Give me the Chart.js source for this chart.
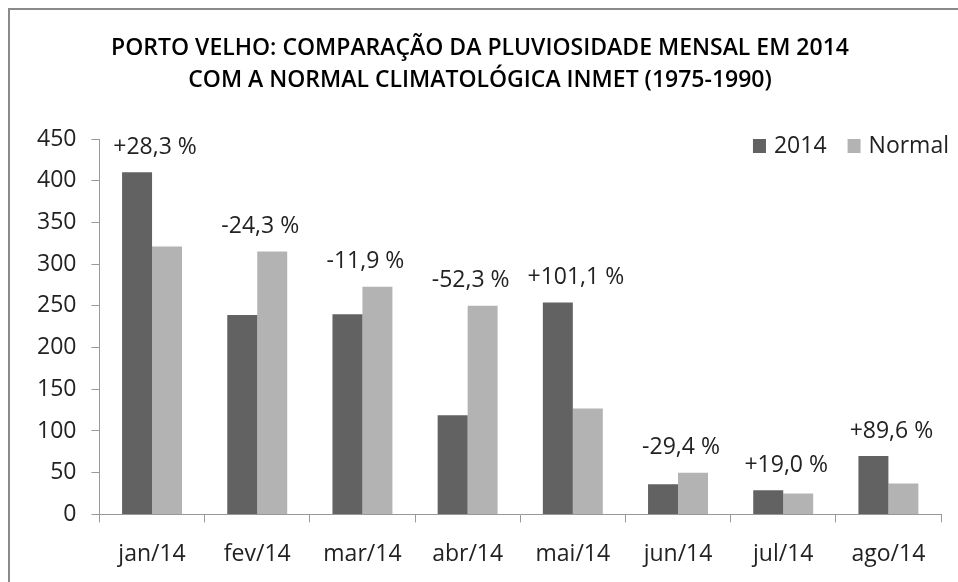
<!DOCTYPE html>
<html>
<head>
<meta charset="utf-8">
<script src="https://cdn.jsdelivr.net/npm/chart.js@4"></script>
<style>
  html, body { margin: 0; padding: 0; background: #fff; overflow: hidden; }
  #wrap { position: relative; width: 958px; height: 582px; }
  #frame { position: absolute; left: 8px; top: 8px; width: 1000px; height: 1000px;
           border: 2px solid #8a8a8a; box-sizing: border-box; }
  canvas { position: absolute; left: 0; top: 0; }
</style>
</head>
<body>
<div id="wrap">
  <div id="frame"></div>
  <canvas id="myChart" width="958" height="582"></canvas>
</div>
<script>
// meses
var months = ['jan/14', 'fev/14', 'mar/14', 'abr/14', 'mai/14', 'jun/14', 'jul/14', 'ago/14'];

// pluviosidade (mm)
var rain2014 = [410, 239, 240, 119, 254, 36, 29, 70];
var rainNormal = [321, 315, 273, 250, 127, 50, 25, 37];

// diferenca em relacao a normal
var pctLabels = ['+28,3 %', '-24,3 %', '-11,9 %', '-52,3 %', '+101,1 %', '-29,4 %', '+19,0 %', '+89,6 %'];

var titleLines = ['PORTO VELHO: COMPARAÇÃO DA PLUVIOSIDADE MENSAL EM 2014',
                  'COM A NORMAL CLIMATOLÓGICA INMET (1975-1990)'];

var baseFont = '"Open Sans", sans-serif';

// titulo desenhado a mao
var titlePlugin = {
    id: 'titulo',
    afterDraw: function (chart) {
        var ctx = chart.ctx;
        ctx.save();
        ctx.fillStyle = '#000';
        ctx.font = '600 23px ' + baseFont;
        ctx.textAlign = 'center';
        ctx.textBaseline = 'middle';
        ctx.fillText(titleLines[0], 480, 48);
        ctx.fillText(titleLines[1], 480, 80);
        ctx.restore();
    }
};

// percentuais acima de cada par de barras
var pctPlugin = {
    id: 'percentuais',
    afterDatasetsDraw: function (chart) {
        var ctx = chart.ctx;
        var m0 = chart.getDatasetMeta(0).data;
        var m1 = chart.getDatasetMeta(1).data;
        ctx.save();
        ctx.fillStyle = '#222';
        ctx.font = '23px ' + baseFont;
        ctx.textAlign = 'center';
        ctx.textBaseline = 'middle';
        for (var i = 0; i < pctLabels.length; i++) {
            var x = (m0[i].x + m1[i].x) / 2 + 3;
            var top = Math.min(m0[i].y, m1[i].y);
            ctx.fillText(pctLabels[i], x, top - 25);
        }
        ctx.restore();
    }
};

// legenda dentro da area do grafico
var legendPlugin = {
    id: 'legendaInterna',
    afterDraw: function (chart) {
        var ctx = chart.ctx;
        var ds = chart.data.datasets;
        var area = chart.chartArea;
        ctx.save();
        ctx.font = '23px ' + baseFont;
        ctx.textBaseline = 'middle';
        ctx.textAlign = 'left';
        var y = area.top + 7;
        var widths = ds.map(function (d) { return ctx.measureText(d.label).width; });
        var total = 0;
        for (var i = 0; i < ds.length; i++) total += 21 + widths[i] + (i < ds.length - 1 ? 21 : 0);
        var x = 949 - total;
        for (var j = 0; j < ds.length; j++) {
            ctx.fillStyle = ds[j].backgroundColor;
            ctx.fillRect(x, y - 7, 13, 14);
            ctx.fillStyle = '#222';
            ctx.fillText(ds[j].label, x + 21, y);
            x += 21 + widths[j] + 21;
        }
        ctx.restore();
    }
};

var ctx = document.getElementById('myChart').getContext('2d');

var myChart = new Chart(ctx, {
    type: 'bar',
    data: {
        labels: months,
        datasets: [{
            label: '2014',
            data: rain2014,
            backgroundColor: '#626262',
            categoryPercentage: 0.57,
            barPercentage: 1.0
        }, {
            label: 'Normal',
            data: rainNormal,
            backgroundColor: '#b3b3b3',
            categoryPercentage: 0.57,
            barPercentage: 1.0
        }]
    },
    options: {
        responsive: false,
        animation: false,
        layout: {
            padding: { top: 139, left: 22, right: 17, bottom: -4 }
        },
        plugins: {
            legend: { display: false },
            title: { display: false },
            tooltip: { enabled: false }
        },
        scales: {
            x: {
                grid: {
                    display: true,
                    drawOnChartArea: false,
                    drawTicks: true,
                    tickLength: 8,
                    color: '#999',
                    offset: true
                },
                border: { color: '#999', width: 1 },
                ticks: {
                    color: '#222',
                    font: { family: baseFont, size: 23 },
                    padding: 18,
                    maxRotation: 0
                }
            },
            y: {
                min: 0,
                max: 450,
                ticks: {
                    stepSize: 50,
                    color: '#222',
                    font: { family: baseFont, size: 23 },
                    padding: 15
                },
                grid: {
                    display: true,
                    drawOnChartArea: false,
                    drawTicks: true,
                    tickLength: 8,
                    color: '#999'
                },
                border: { color: '#999', width: 1 }
            }
        }
    },
    plugins: [titlePlugin, pctPlugin, legendPlugin]
});
</script>
</body>
</html>
